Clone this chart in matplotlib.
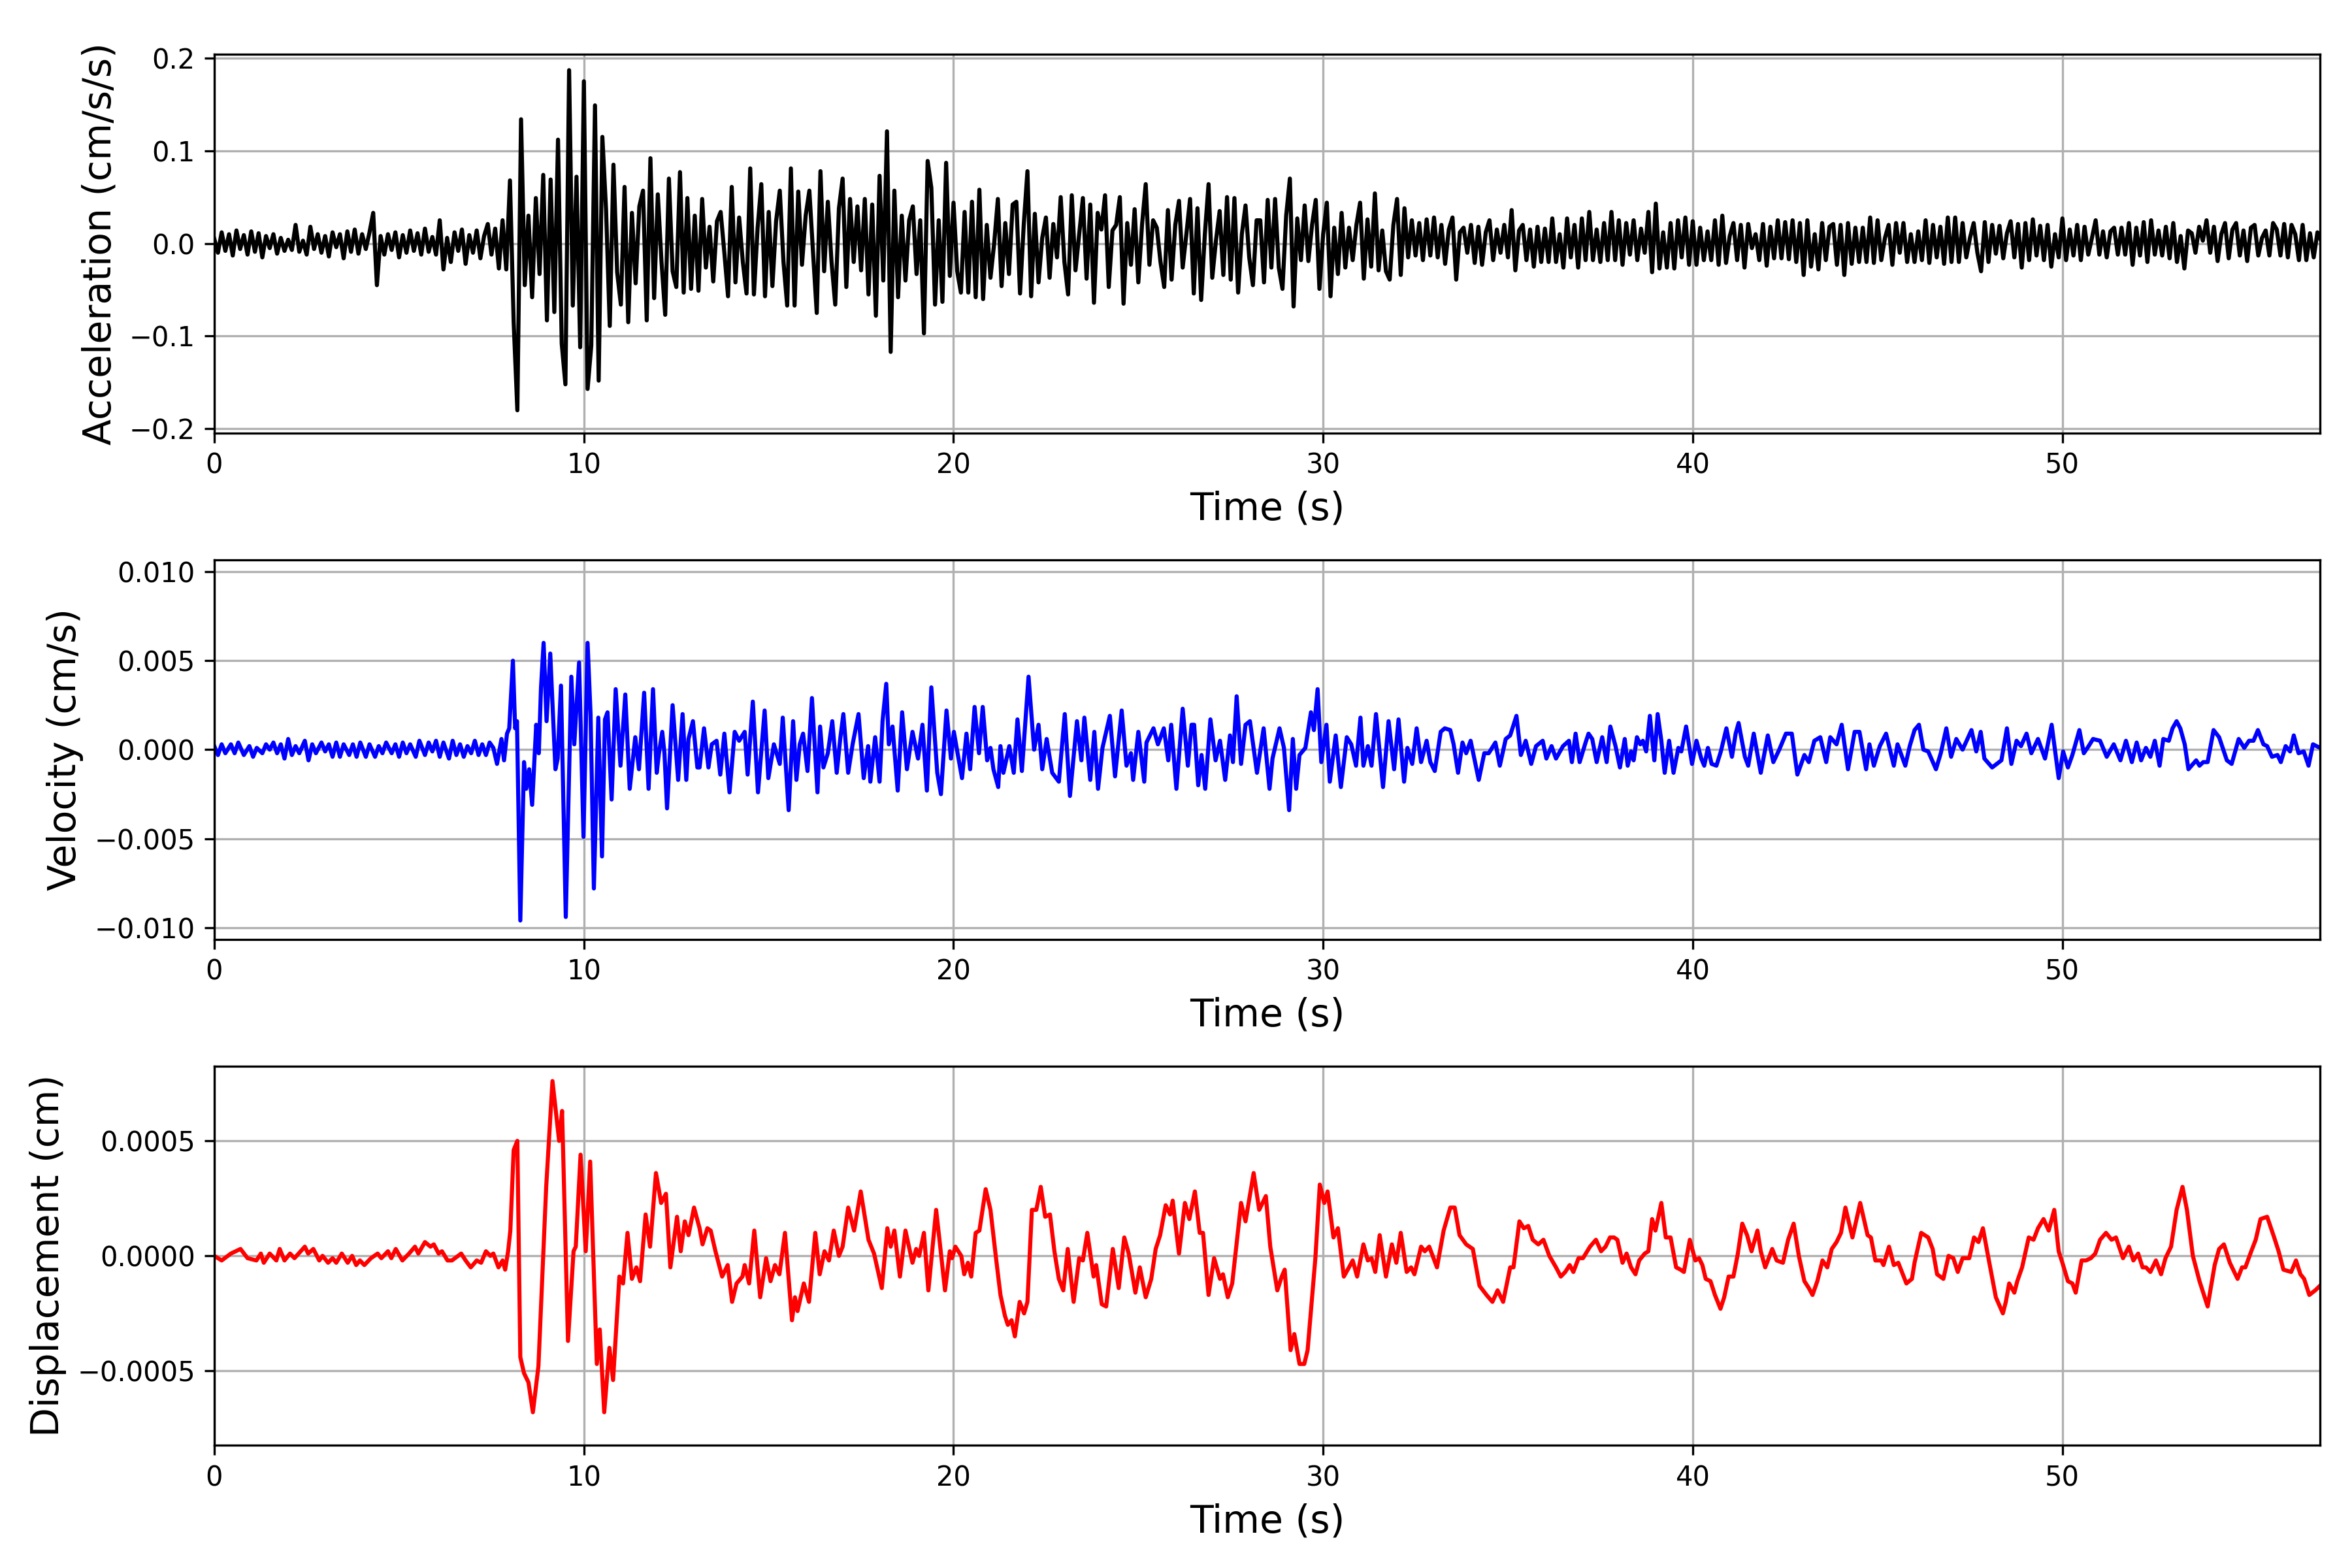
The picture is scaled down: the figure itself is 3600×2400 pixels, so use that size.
import numpy as np
import matplotlib
matplotlib.use("Agg")
import matplotlib.pyplot as plt

# ---------------- data ----------------
# Acceleration, sampled every 0.1 s, in units of 0.001 cm/s/s
ACC_DT = 0.1
ACC_UNIT = 1e-3
acc_values = [
    5, -10, 12, -8, 10, -13, 14, -6, 9, -12,
    13, -9, 11, -15, 8, -5, 10, -11, 6, -8,
    4, -7, 20, -9, 3, -12, 18, -6, 10, -10,
    8, -14, 12, -4, 10, -16, 13, -9, 15, -11,
    10, -6, 12, 33, -45, 8, -12, 10, -7, 12,
    -15, 9, -10, 14, -8, 11, -12, 16, -9, 7,
    -12, 25, -28, 6, -20, 12, -8, 15, -22, 9,
    -10, 14, -16, 8, 21, -12, 16, -27, 25, -28,
    68, -85, -180, 134, -45, 30, -58, 49, -33, 74,
    -83, 69, -74, 112, -108, -152, 187, -67, 72, -112,
    175, -157, -110, 149, -148, 115, 36, -89, 85, -31,
    -66, 61, -85, 33, -43, 40, 57, -83, 92, -59,
    53, -20, -77, 70, -30, -47, 77, -53, 49, -49,
    30, -51, 48, -26, 18, -41, 24, 34, -10, -57,
    61, -42, 28, -20, -54, 81, -55, 17, 64, -57,
    34, -46, 24, 57, -20, -67, 81, -67, 56, -23,
    30, 57, -10, -75, 78, -30, 45, -20, -66, 38,
    70, -47, 48, -20, 40, -29, 48, -55, 42, -78,
    73, -40, 121, -117, 57, -58, 30, -40, 25, 40,
    -33, 25, -97, 89, 60, -66, 25, -63, 87, -35,
    44, -30, -53, 34, -53, 45, -58, 58, -60, 20,
    -37, 0, 48, -46, 22, -33, 42, 45, -54, 20,
    78, -57, 32, -42, 6, 28, -37, 21, -15, 50,
    -20, -55, 52, -29, 10, 49, -38, 42, -64, 33,
    15, 52, -47, 14, 20, 50, -65, 22, -23, 37,
    -42, 20, 64, -23, 25, 17, -20, -47, 36, -39,
    20, 46, -26, 10, 48, -54, 38, -61, 10, 64,
    -37, 3, 35, -34, 50, -39, 49, -53, 10, 41,
    -15, -45, 25, 25, -42, 47, -26, 48, -26, -49,
    30, 70, -68, 27, -18, 41, -19, 20, 47, -49,
    10, 44, -57, 17, -33, 33, -26, 17, -18, 20,
    44, -38, 26, -25, 54, -29, 14, -30, -39, 20,
    48, -34, 38, -15, 25, -13, 22, -18, 26, -13,
    28, -15, 20, -22, 15, 28, -39, 12, 17, -10,
    20, -21, 18, -23, 12, 25, -18, 15, -10, 20,
    -15, 36, -29, 14, 20, -18, 15, -25, 18, -20,
    16, -20, 27, -20, 10, -26, 27, -15, 20, -26,
    27, -18, 34, -18, 15, -20, 22, -18, 34, -18,
    25, -23, 22, -12, 25, -18, 16, -10, 34, -31,
    43, -27, 12, -26, 22, -27, 25, -15, 28, -23,
    24, -23, 17, -18, 13, -18, 25, -23, 30, -21,
    8, 22, -18, 20, -26, 21, -5, 10, -18, 21,
    -24, 18, -16, 25, -16, 23, -17, 25, -20, 22,
    -34, 25, -25, 10, -28, 22, -18, 18, 21, -23,
    20, -34, 22, -22, 17, -20, 17, -20, 28, -21,
    25, -18, 6, 20, -23, 22, -10, 22, -20, 10,
    -20, 13, -18, 25, -21, 20, -15, 18, -22, 28,
    -20, 28, -20, 22, -15, 6, 22, -10, -30, 23,
    -20, 20, -11, 19, -16, 11, 24, -15, 21, -26,
    22, -18, 26, -13, 19, -18, 20, -25, 10, -15,
    27, -18, 15, -13, 20, -18, 18, -12, 6, 25,
    -12, 13, -15, 13, 17, -12, 17, -12, 22, -23,
    17, -13, 23, -20, 25, -12, 14, -13, 18, -16,
    22, -20, 8, -27, 14, 11, -10, 18, 3, 25,
    -10, 18, -19, 10, 22, -16, 15, 22, -13, 14,
    -19, 17, 20, -13, 6, 14, -13, 22, 15, -13,
    21, -15, 20, 10, -18, 20, -18, 11, -15, 12,
    3,
]

# Velocity turning points: (time s, value in 1e-4 cm/s)
VEL_UNIT = 1e-4
vel_points = [
    (0, 2), (0.1, -3), (0.2, 3), (0.3, -2), (0.45, 3), (0.55, -2), (0.65, 4), (0.8, -3), (0.95, 2), (1.05, -4),
    (1.15, 1), (1.3, -2), (1.4, 3), (1.5, 0), (1.6, 4), (1.7, -2), (1.8, 3), (1.9, -5), (2.0, 6), (2.1, -3),
    (2.2, 2), (2.3, -2), (2.45, 5), (2.55, -6), (2.65, 3), (2.75, -2), (2.9, 4), (3.0, -1), (3.1, 3), (3.2, -4),
    (3.3, 4), (3.4, -4), (3.5, 3), (3.65, -3), (3.75, 3), (3.85, -4), (3.95, 4), (4.1, -4), (4.2, 3), (4.35, -4),
    (4.45, 2), (4.55, -2), (4.65, 4), (4.8, -2), (4.9, 3), (5.0, -4), (5.1, 4), (5.2, -2), (5.3, 3), (5.45, -4),
    (5.55, 5), (5.7, -3), (5.8, 4), (5.9, -1), (6.0, 5), (6.1, -4), (6.2, 4), (6.35, -5), (6.45, 5), (6.55, -3),
    (6.65, 3), (6.75, -4), (6.85, 2), (6.95, -2), (7.05, 5), (7.15, -3), (7.25, 3), (7.35, -3), (7.45, 4), (7.55, 1),
    (7.65, -8), (7.77, 6), (7.84, -6), (7.92, 9), (7.98, 12), (8.08, 50), (8.14, 12), (8.19, 16), (8.28, -96), (8.38, -7),
    (8.44, -22), (8.52, -11), (8.60, -31), (8.71, 14), (8.78, -2), (8.84, 35), (8.91, 60), (8.99, 16), (9.09, 54), (9.23, -11),
    (9.29, -5), (9.38, 36), (9.51, -94), (9.66, 41), (9.74, 3), (9.87, 49), (9.99, -49), (10.10, 60), (10.18, 20), (10.27, -78),
    (10.39, 18), (10.49, -60), (10.57, 17), (10.64, 21), (10.75, -28), (10.86, 34), (10.99, -9), (11.12, 31), (11.24, -22), (11.39, 7),
    (11.49, -11), (11.63, 32), (11.75, -22), (11.87, 34), (11.97, -13), (12.03, -2), (12.12, 10), (12.18, -2), (12.25, -33), (12.40, 25),
    (12.55, -17), (12.67, 20), (12.77, -17), (12.83, 6), (12.95, 16), (13.07, -10), (13.13, -10), (13.25, 12), (13.37, -10), (13.46, 3),
    (13.59, 5), (13.69, -14), (13.80, 9), (13.94, -24), (14.08, 10), (14.20, 5), (14.35, 10), (14.43, -14), (14.57, 27), (14.71, -24),
    (14.89, 22), (14.99, -16), (15.14, 3), (15.30, -8), (15.38, 18), (15.54, -34), (15.66, 16), (15.75, -17), (15.84, 3), (15.93, 9),
    (16.05, -12), (16.17, 29), (16.32, -24), (16.39, 13), (16.48, -10), (16.60, -2), (16.72, 16), (16.84, -13), (16.94, 7), (17.02, 20),
    (17.15, -13), (17.27, 3), (17.43, 20), (17.57, -16), (17.69, 2), (17.75, -18), (17.88, 7), (18.00, -18), (18.08, 16), (18.18, 37),
    (18.25, 3), (18.35, 13), (18.49, -23), (18.61, 21), (18.74, -11), (18.89, 10), (19.04, -5), (19.16, 14), (19.28, -23), (19.40, 35),
    (19.56, -13), (19.66, -25), (19.81, 22), (19.93, -5), (20.01, 10), (20.11, -2), (20.23, -16), (20.35, 9), (20.45, -11), (20.57, 24),
    (20.69, -2), (20.79, 24), (20.91, -6), (21.00, 1), (21.08, -11), (21.21, -21), (21.27, 2), (21.35, -13), (21.51, 2), (21.63, -13),
    (21.73, 17), (21.85, -12), (22.03, 41), (22.18, 0), (22.30, 14), (22.40, -11), (22.52, 6), (22.67, -13), (22.85, -18), (23.01, 20),
    (23.15, -26), (23.34, 16), (23.46, -6), (23.54, 18), (23.70, -17), (23.81, 10), (23.91, -22), (24.03, 1), (24.23, 19), (24.37, -15),
    (24.55, 22), (24.68, -9), (24.80, -2), (24.86, -17), (25.00, 10), (25.16, -18), (25.22, 4), (25.41, 12), (25.53, 3), (25.69, 12),
    (25.81, -6), (25.89, 14), (26.03, -22), (26.20, 23), (26.34, -9), (26.44, 14), (26.51, 14), (26.62, -20), (26.71, -3), (26.81, -22),
    (26.95, 17), (27.09, -6), (27.21, 5), (27.35, -17), (27.48, 8), (27.56, -7), (27.66, 30), (27.78, -8), (27.90, 14), (28.02, 16),
    (28.21, -13), (28.39, 12), (28.55, -22), (28.63, -5), (28.82, 12), (28.94, 1), (29.08, -34), (29.18, 6), (29.27, -22), (29.36, -3),
    (29.52, 1), (29.67, 21), (29.75, 11), (29.85, 34), (29.95, -7), (30.09, 14), (30.18, -18), (30.34, 8), (30.48, -21), (30.64, 7),
    (30.76, 3), (30.89, -9), (31.01, 18), (31.09, -9), (31.21, 2), (31.31, -9), (31.43, 20), (31.62, -21), (31.77, 16), (31.92, -11),
    (32.04, 17), (32.19, -18), (32.28, 1), (32.41, -8), (32.53, 12), (32.65, -7), (32.80, 5), (32.90, -7), (33.02, -12), (33.18, 10),
    (33.29, 12), (33.44, 11), (33.53, 3), (33.65, -13), (33.77, 4), (33.87, -2), (33.99, 5), (34.21, -17), (34.36, -2), (34.48, -2),
    (34.66, 4), (34.78, -9), (34.94, 6), (35.06, 8), (35.23, 19), (35.35, -3), (35.48, 5), (35.63, -8), (35.76, 2), (35.94, 5),
    (36.04, -5), (36.18, 2), (36.30, -5), (36.49, 2), (36.65, 5), (36.73, -7), (36.83, 9), (36.94, -7), (37.10, 4), (37.18, 9),
    (37.28, 6), (37.40, -7), (37.55, 7), (37.67, -7), (37.77, 13), (37.91, 2), (38.03, -10), (38.16, 6), (38.24, -9), (38.33, -1),
    (38.40, -6), (38.49, 7), (38.58, 3), (38.65, 5), (38.74, -1), (38.84, 19), (38.96, -6), (39.05, 20), (39.15, 5), (39.24, -13),
    (39.36, 5), (39.48, -13), (39.61, 1), (39.69, -1), (39.82, 13), (39.98, -8), (40.10, 5), (40.23, -5), (40.31, -9), (40.41, 1),
    (40.51, -8), (40.64, -9), (40.76, -1), (40.91, 12), (41.06, -4), (41.16, 9), (41.24, 15), (41.41, -4), (41.50, -9), (41.65, 9),
    (41.84, -13), (42.03, 8), (42.18, -7), (42.34, 0), (42.52, 9), (42.68, 9), (42.83, -14), (43.02, -3), (43.14, -7), (43.29, 5),
    (43.45, 7), (43.61, -7), (43.72, 7), (43.89, 3), (44.03, 14), (44.20, -11), (44.38, 10), (44.51, 10), (44.69, -11), (44.78, 3),
    (44.90, -9), (45.06, 2), (45.23, 9), (45.44, -9), (45.54, 3), (45.75, -9), (45.87, 2), (46.00, 11), (46.12, 14), (46.24, 0),
    (46.37, -1), (46.58, -11), (46.71, -2), (46.86, 12), (46.99, -4), (47.13, 6), (47.30, 0), (47.54, 11), (47.67, -1), (47.79, 10),
    (47.89, -5), (48.10, -10), (48.35, -6), (48.50, 12), (48.62, -8), (48.76, 5), (48.88, 2), (49.03, 9), (49.16, -2), (49.34, 6),
    (49.53, -5), (49.71, 14), (49.90, -16), (50.02, -1), (50.15, -10), (50.27, -3), (50.46, 11), (50.58, -2), (50.71, 2), (50.83, 6),
    (51.02, 5), (51.20, -4), (51.39, 3), (51.57, -6), (51.72, 5), (51.88, -7), (52.01, 4), (52.13, -6), (52.26, 1), (52.38, -4),
    (52.50, 5), (52.63, -9), (52.73, 6), (52.88, 5), (52.98, 12), (53.09, 16), (53.19, 12), (53.31, 3), (53.41, -11), (53.62, -6),
    (53.71, -9), (53.81, -7), (53.93, -7), (54.09, 11), (54.24, 7), (54.37, -1), (54.45, -6), (54.58, -8), (54.77, 6), (54.92, 1),
    (55.05, 5), (55.17, 5), (55.29, 11), (55.44, 3), (55.54, 2), (55.67, -4), (55.82, -3), (55.91, -7), (56.04, 2), (56.16, -1),
    (56.26, 8), (56.39, -2), (56.53, -1), (56.66, -9), (56.78, 3), (56.97, 1),
]

# Displacement turning points: (time s, value in 1e-5 cm)
DIS_UNIT = 1e-5
dis_points = [
    (0, 0), (0.1, -1), (0.2, -2), (0.45, 1), (0.71, 3), (0.9, -1), (1.14, -2), (1.26, 1), (1.34, -3), (1.5, 1),
    (1.68, -2), (1.77, 3), (1.9, -2), (2.05, 1), (2.17, -1), (2.45, 4), (2.54, 1), (2.68, 3), (2.84, -2), (2.93, 0),
    (3.08, -3), (3.2, -1), (3.3, -3), (3.45, 1), (3.61, -3), (3.73, 0), (3.84, -4), (3.94, -2), (4.06, -4), (4.24, -1),
    (4.42, 1), (4.52, -1), (4.70, 2), (4.79, -1), (4.91, 3), (5.09, -2), (5.27, 1), (5.43, 4), (5.52, 1), (5.70, 6),
    (5.85, 4), (5.94, 5), (6.07, 1), (6.16, 2), (6.31, -2), (6.43, -2), (6.68, 1), (6.80, -2), (6.94, -5), (7.10, -2),
    (7.22, -3), (7.35, 2), (7.47, 0), (7.55, 1), (7.69, -5), (7.80, -2), (7.87, -6), (7.95, 2), (8.01, 11), (8.10, 46),
    (8.20, 50), (8.28, -44), (8.38, -51), (8.50, -55), (8.62, -68), (8.77, -48), (8.98, 30), (9.15, 76), (9.33, 50), (9.41, 63),
    (9.57, -37), (9.72, 2), (9.78, 4), (9.91, 44), (10.05, 2), (10.17, 41), (10.35, -47), (10.43, -32), (10.55, -68), (10.69, -40),
    (10.79, -54), (10.96, -9), (11.06, -12), (11.18, 10), (11.30, -10), (11.42, -5), (11.52, -11), (11.67, 18), (11.79, 4), (11.95, 36),
    (12.09, 23), (12.22, 27), (12.34, -5), (12.52, 17), (12.62, 2), (12.73, 15), (12.83, 9), (12.98, 21), (13.13, 12), (13.21, 5),
    (13.34, 12), (13.43, 11), (13.56, 2), (13.74, -9), (13.89, -4), (14.01, -20), (14.13, -12), (14.29, -9), (14.35, -4), (14.47, -12),
    (14.61, 11), (14.77, -18), (14.93, -1), (15.05, -11), (15.17, -4), (15.29, -8), (15.44, 10), (15.63, -28), (15.71, -18), (15.78, -24),
    (15.95, -12), (16.09, -20), (16.26, 10), (16.38, -8), (16.51, 2), (16.63, -2), (16.76, 11), (16.90, 0), (17.00, 4), (17.15, 21),
    (17.31, 11), (17.49, 28), (17.70, 7), (17.85, 1), (18.06, -14), (18.21, 12), (18.30, 4), (18.40, 11), (18.55, -9), (18.70, 11),
    (18.89, -3), (18.99, 3), (19.07, 0), (19.20, 10), (19.32, -15), (19.53, 20), (19.62, 7), (19.77, -15), (19.90, 2), (19.96, -1),
    (20.05, 4), (20.21, 0), (20.29, -8), (20.39, -3), (20.48, -9), (20.60, 10), (20.70, 11), (20.87, 29), (21.00, 20), (21.15, -1),
    (21.27, -17), (21.39, -26), (21.47, -30), (21.57, -28), (21.66, -35), (21.79, -20), (21.91, -25), (22.00, -20), (22.12, 20), (22.24, 20),
    (22.36, 30), (22.48, 17), (22.61, 18), (22.73, 2), (22.85, -10), (22.97, -15), (23.09, 3), (23.25, -20), (23.40, -1), (23.50, -2),
    (23.62, 10), (23.79, -9), (23.86, -4), (24.01, -21), (24.13, -22), (24.31, 3), (24.47, -14), (24.62, 8), (24.74, 1), (24.92, -16),
    (25.04, -5), (25.20, -18), (25.35, -10), (25.47, 3), (25.59, 9), (25.74, 22), (25.86, 18), (25.93, 24), (26.10, 1), (26.26, 23),
    (26.38, 16), (26.53, 28), (26.66, 10), (26.75, 10), (26.90, -17), (27.05, -1), (27.21, -10), (27.29, -8), (27.42, -18), (27.54, -12),
    (27.78, 23), (27.90, 15), (28.12, 36), (28.27, 20), (28.45, 26), (28.57, 4), (28.76, -15), (28.88, -9), (28.96, -6), (29.12, -41),
    (29.22, -34), (29.36, -47), (29.49, -47), (29.58, -41), (29.79, -1), (29.91, 31), (30.03, 23), (30.12, 28), (30.28, 8), (30.40, 12),
    (30.56, -9), (30.70, -5), (30.80, -2), (30.92, -9), (31.09, 5), (31.21, -2), (31.31, -1), (31.41, -7), (31.53, 9), (31.70, -9),
    (31.86, 5), (31.98, -3), (32.10, 10), (32.26, -7), (32.38, -5), (32.47, -8), (32.65, 4), (32.75, 2), (32.87, 4), (33.08, -5),
    (33.26, 11), (33.44, 21), (33.56, 21), (33.69, 9), (33.87, 5), (34.05, 3), (34.23, -13), (34.42, -17), (34.58, -20), (34.72, -15),
    (34.87, -20), (35.06, -5), (35.15, -5), (35.31, 15), (35.43, 12), (35.55, 13), (35.67, 7), (35.82, 5), (35.96, 7), (36.12, 0),
    (36.30, -5), (36.43, -9), (36.55, -7), (36.67, -4), (36.77, -7), (36.91, -1), (37.03, -1), (37.22, 4), (37.38, 7), (37.52, 2),
    (37.64, 4), (37.76, 8), (37.87, 8), (37.96, 7), (38.10, -3), (38.21, 1), (38.33, -5), (38.45, -8), (38.55, -2), (38.70, 1),
    (38.80, 2), (38.90, 16), (38.99, 11), (39.15, 23), (39.27, 8), (39.40, 8), (39.55, -5), (39.67, -6), (39.76, -7), (39.92, 7),
    (40.07, -2), (40.17, -1), (40.26, -4), (40.35, -10), (40.48, -11), (40.60, -17), (40.75, -23), (40.85, -18), (40.97, -9), (41.10, -9),
    (41.22, 1), (41.34, 14), (41.47, 9), (41.59, 2), (41.75, 11), (41.84, 2), (41.96, -5), (42.15, 3), (42.27, -2), (42.44, -3),
    (42.58, 7), (42.73, 14), (42.87, 0), (43.02, -11), (43.14, -14), (43.24, -17), (43.37, -11), (43.51, -2), (43.64, -5), (43.76, 3),
    (43.89, 6), (44.01, 10), (44.13, 21), (44.32, 8), (44.53, 23), (44.73, 9), (44.82, 8), (44.94, -2), (45.10, -2), (45.16, -4),
    (45.31, 4), (45.44, -4), (45.56, -3), (45.78, -12), (45.93, -10), (46.00, -3), (46.18, 10), (46.37, 8), (46.49, 3), (46.61, -8),
    (46.78, -10), (46.92, 0), (47.05, -1), (47.17, -7), (47.30, -1), (47.48, -1), (47.61, 8), (47.73, 6), (47.85, 12), (48.00, -1),
    (48.20, -18), (48.39, -25), (48.47, -20), (48.56, -12), (48.70, -16), (48.78, -11), (48.91, -5), (49.09, 8), (49.22, 7), (49.34, 12),
    (49.49, 16), (49.63, 11), (49.78, 20), (49.90, 2), (50.00, -3), (50.15, -11), (50.27, -12), (50.36, -16), (50.52, -2), (50.64, -2),
    (50.77, -1), (50.89, 1), (51.02, 7), (51.18, 10), (51.33, 7), (51.45, 8), (51.64, -1), (51.80, 4), (51.92, -2), (52.05, 1),
    (52.17, -5), (52.26, -5), (52.38, -7), (52.53, -2), (52.67, -8), (52.79, -1), (52.94, 4), (53.09, 20), (53.25, 30), (53.37, 20),
    (53.53, 0), (53.71, -11), (53.93, -22), (54.12, -4), (54.24, 3), (54.37, 5), (54.53, -3), (54.74, -10), (54.86, -5), (54.95, -5),
    (55.11, 2), (55.23, 7), (55.36, 16), (55.54, 17), (55.73, 8), (55.85, 2), (55.98, -6), (56.19, -7), (56.32, -2), (56.44, -8),
    (56.54, -10), (56.68, -17), (56.84, -15), (56.97, -13),
]

T_END = 56.97
acc_ylim = 0.2045
vel_ylim = 0.01065
dis_ylim = 0.000824

# ---------------- build series ----------------
acc = np.array(acc_values, dtype=float) * ACC_UNIT
acc_t = np.arange(len(acc)) * ACC_DT

vp = np.array(sorted(vel_points), dtype=float)
vel_t, vel = vp[:, 0], vp[:, 1] * VEL_UNIT

dp = np.array(sorted(dis_points), dtype=float)
dis_t, dis = dp[:, 0], dp[:, 1] * DIS_UNIT

# ---------------- plot ----------------
fig, axes = plt.subplots(3, 1, figsize=(12, 8), dpi=300)
fig.subplots_adjust(left=0.0911, right=0.9864, top=0.9656, bottom=0.0782, hspace=0.3355)

series = [
    (acc_t, acc, 'k', 'Acceleration (cm/s/s)', acc_ylim),
    (vel_t, vel, 'b', 'Velocity (cm/s)', vel_ylim),
    (dis_t, dis, 'r', 'Displacement (cm)', dis_ylim),
]

for ax, (t, y, c, lab, lim) in zip(axes, series):
    ax.plot(t, y, color=c, linewidth=1.5)
    ax.set_xlim(0, T_END)
    ax.set_ylim(-lim, lim)
    ax.set_xlabel('Time (s)', fontsize=14)
    ax.set_ylabel(lab, fontsize=14)
    ax.grid(True)

axes[2].set_yticks([-0.0005, 0.0, 0.0005])

fig.savefig('out.png', dpi=300)
